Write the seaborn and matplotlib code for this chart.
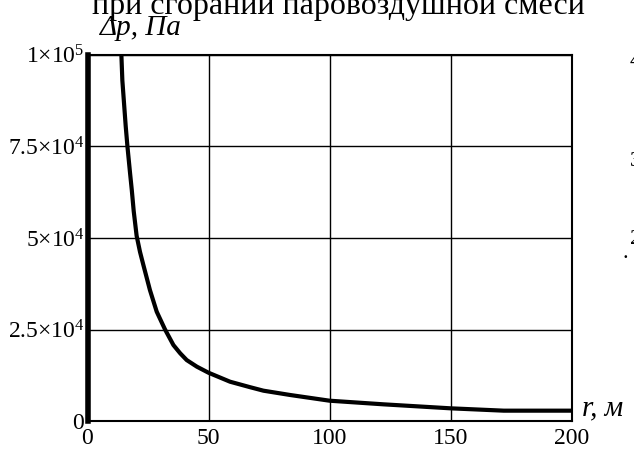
import matplotlib
matplotlib.use("Agg")
import matplotlib.pyplot as plt
import seaborn as sns
import pandas as pd

# ---- data ----
r_m = [14.0, 14.4, 15.2, 15.8, 16.5, 17.6, 18.3, 19.1, 20.3, 21.7, 23.1, 25.8, 28.6,
       32.0, 35.5, 38.3, 41.0, 45.2, 50.0, 58.9, 67.2, 72.7, 83.8, 100.0,
       122.3, 150.0, 172.0, 200.0]
dp_pa = [100000, 93000, 85800, 80400, 75000, 67600, 63100, 57300, 50600, 46200, 42600, 35800, 29900,
         25100, 20800, 18550, 16700, 14900, 13250, 10800, 9300, 8350, 7170, 5620,
         4630, 3540, 2900, 2900]

x_ticks = [0, 50, 100, 150, 200]
x_tick_labels = ["0", "50", "100", "150", "200"]
y_ticks = [0, 25000, 50000, 75000, 100000]
y_tick_labels = [r"$0$", r"$2.5{\times}10^{4}$", r"$5{\times}10^{4}$",
                 r"$7.5{\times}10^{4}$", r"$1{\times}10^{5}$"]

title_text = "при сгорании паровоздушной смеси"
y_label = "Δp, Па"
x_label = "r, м"

df = pd.DataFrame({"r": r_m, "dp": dp_pa})

sns.set_theme(style="white")
plt.rcParams["font.family"] = ["Liberation Serif", "DejaVu Serif"]
plt.rcParams["mathtext.fontset"] = "custom"
plt.rcParams["mathtext.rm"] = "Liberation Serif"
plt.rcParams["mathtext.it"] = "Liberation Serif:italic"
plt.rcParams["mathtext.bf"] = "Liberation Serif:bold"

W, H = 634, 450
fig = plt.figure(figsize=(W / 100, H / 100), dpi=100)
ax = fig.add_axes([87.5 / W, (H - 421.3) / H, 484 / W, 366.6 / H])

sns.lineplot(data=df, x="r", y="dp", ax=ax, color="black", linewidth=3.0,
             solid_joinstyle="round", solid_capstyle="butt")

ax.set_xlim(0, 200)
ax.set_ylim(0, 100000)
ax.set_xticks(x_ticks)
ax.set_xticklabels(x_tick_labels)
ax.set_yticks(y_ticks)
ax.set_yticklabels(y_tick_labels)
ax.set_xlabel("")
ax.set_ylabel("")
ax.grid(True, color="black", linewidth=1.0)
ax.set_axisbelow(True)

for side in ["top", "right", "bottom"]:
    ax.spines[side].set_color("black")
    ax.spines[side].set_linewidth(1.5)
ax.spines["left"].set_color("black")
ax.spines["left"].set_linewidth(4.0)

ax.tick_params(axis="both", length=0, labelsize=17, colors="black")
ax.tick_params(axis="x", pad=5)
ax.tick_params(axis="y", pad=2)

def fx(px):
    return px / W

def fy(py):
    return 1 - py / H

fig.text(fx(338), fy(14), title_text, ha="center", va="baseline",
         fontsize=23, color="black")
fig.text(fx(100), fy(35), y_label, ha="left", va="baseline",
         fontsize=21, style="italic", color="black")
fig.text(fx(582), fy(415), x_label, ha="left", va="baseline",
         fontsize=21, style="italic", color="black")

# partial labels of a neighbouring chart at the right edge
for txt, py in [("4", 66), ("3", 166), ("2", 244)]:
    fig.text(fx(630), fy(py), txt, ha="left", va="baseline",
             fontsize=16, color="black")
fig.text(fx(623), fy(258), ".", ha="left", va="baseline", fontsize=16, color="black")

fig.savefig("out.png", dpi=100)
